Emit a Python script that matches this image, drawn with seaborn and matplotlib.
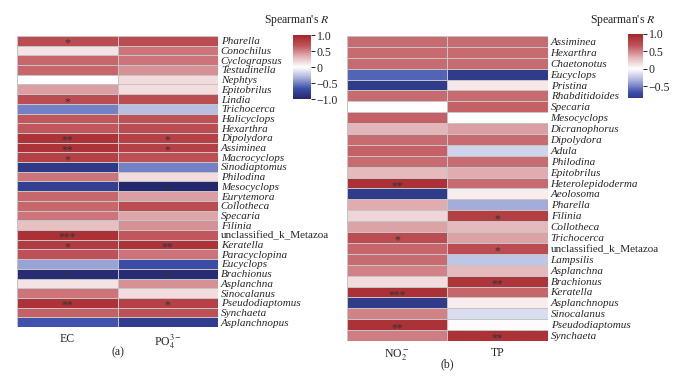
import pandas as pd
import matplotlib.pyplot as plt
import seaborn as sns
from matplotlib.colors import LinearSegmentedColormap

# Panel (a): EC and PO4 correlations
left_taxa = ["Pharella", "Conochilus", "Cyclograpsus", "Testudinella", "Nephtys",
             "Epitobrilus", "Lindia", "Trichocerca", "Halicyclops", "Hexarthra",
             "Dipolydora", "Assiminea", "Macrocyclops", "Sinodiaptomus", "Philodina",
             "Mesocyclops", "Eurytemora", "Collotheca", "Specaria", "Filinia",
             "unclassified_k_Metazoa", "Keratella", "Paracyclopina", "Eucyclops",
             "Brachionus", "Asplanchna", "Sinocalanus", "Pseudodiaptomus", "Synchaeta",
             "Asplanchnopus"]
left_ec = [0.72, 0.12, 0.6, 0.6, 0.0, 0.4, 0.72, -0.5, 0.65, 0.65,
           0.9, 0.9, 0.8, -0.85, 0.55, -0.8, 0.6, 0.6, 0.55, 0.28,
           0.92, 0.85, 0.68, -0.38, -0.95, 0.12, 0.55, 0.9, 0.62, -0.65]
left_po4 = [0.72, 0.55, 0.55, 0.45, 0.15, 0.15, 0.72, -0.28, 0.68, 0.72,
            0.8, 0.8, 0.7, -0.5, 0.15, -1.0, 0.4, 0.72, 0.38, 0.45,
            0.65, 0.9, 0.55, -0.68, -0.95, 0.45, 0.15, 0.8, 0.68, -0.82]
left_ec_sig = ["*", "", "", "", "", "", "*", "", "", "",
               "**", "**", "*", "", "", "", "", "", "", "",
               "***", "*", "", "", "*", "", "", "**", "", ""]
left_po4_sig = ["", "", "", "", "", "", "", "", "", "",
                "*", "*", "", "", "", "*", "", "", "", "",
                "", "**", "", "", "*", "", "", "*", "", ""]

# Panel (b): NO2 and TP correlations
right_taxa = ["Assiminea", "Hexarthra", "Chaetonotus", "Eucyclops", "Pristina",
              "Rhabditidoides", "Specaria", "Mesocyclops", "Dicranophorus", "Dipolydora",
              "Adula", "Philodina", "Epitobrilus", "Heterolepidoderma", "Aeolosoma",
              "Pharella", "Filinia", "Collotheca", "Trichocerca", "unclassified_k_Metazoa",
              "Lampsilis", "Asplanchna", "Brachionus", "Keratella", "Asplanchnopus",
              "Sinocalanus", "Pseudodiaptomus", "Synchaeta"]
right_no2 = [0.58, 0.58, 0.58, -0.6, -0.83, 0.58, 0.0, 0.62, 0.32, 0.58,
             0.62, 0.58, 0.3, 0.92, -0.83, 0.35, 0.18, 0.38, 0.72, 0.6,
             0.58, 0.5, 0.15, 0.92, -0.83, 0.5, 0.9, 0.52]
right_tp = [0.58, 0.58, 0.58, -0.83, 0.1, 0.58, 0.62, 0.0, 0.4, 0.58,
            -0.18, 0.58, 0.35, 0.58, 0.08, -0.35, 0.82, 0.3, 0.38, 0.72,
            -0.25, 0.3, 0.88, 0.6, 0.08, -0.15, 0.02, 0.9]
right_no2_sig = ["", "", "", "", "", "", "", "", "", "",
                 "", "", "", "**", "", "", "", "", "*", "",
                 "", "", "", "***", "", "", "**", ""]
right_tp_sig = ["", "", "", "", "", "", "", "", "", "",
                "", "", "", "", "", "", "*", "", "", "*",
                "", "", "**", "", "", "", "", "**"]

sns.set_theme(style="white")
plt.rcParams["font.family"] = ["Liberation Serif", "DejaVu Serif"]
plt.rcParams["mathtext.fontset"] = "stix"

cmap = LinearSegmentedColormap.from_list(
    "spearman", ["#24276a", "#3d4fab", "#a9b1dc", "#ffffff", "#e2b3b6", "#c0545a", "#a5262c"])

fig = plt.figure(figsize=(6.8, 3.77), dpi=100)
ax1 = fig.add_axes([0.025, 0.1326, 0.2956, 0.772])
cax1 = fig.add_axes([0.431, 0.737, 0.0265, 0.170])
ax2 = fig.add_axes([0.510, 0.0955, 0.2956, 0.809])
cax2 = fig.add_axes([0.9235, 0.740, 0.022, 0.170])


def draw_panel(ax, cax, taxa, cols, col_labels, sigs, vmin, ticks, tick_labels):
    df = pd.DataFrame(dict(zip(col_labels, cols)), index=taxa)
    sns.heatmap(df, ax=ax, cbar_ax=cax, cmap=cmap, center=0, vmin=vmin, vmax=1,
                linewidths=0.7, linecolor="#c4c4c4", yticklabels=True, xticklabels=True)
    ax.yaxis.tick_right()
    ax.set_yticklabels(taxa, rotation=0, fontsize=8)
    for t in ax.get_yticklabels():
        if not t.get_text().startswith("unclassified"):
            t.set_fontstyle("italic")
    ax.set_xticklabels(col_labels, rotation=0, fontsize=8.5)
    ax.tick_params(length=0, pad=2)
    ax.tick_params(axis="x", pad=4)
    ax.set_xlabel("")
    ax.set_ylabel("")
    # significance stars
    for j, col_sig in enumerate(sigs):
        for i, s in enumerate(col_sig):
            if s:
                ax.text(j + 0.5, i + 0.8, s, ha="center", va="center",
                        fontsize=8.5, color="#333333")
    cbar = ax.collections[0].colorbar
    cbar.set_ticks(ticks)
    cbar.set_ticklabels(tick_labels)
    cbar.ax.tick_params(labelsize=8.5, length=3, width=0.6, pad=1, color="black")
    cbar.outline.set_visible(False)


draw_panel(ax1, cax1, left_taxa, [left_ec, left_po4], ["EC", "PO$_4^{3-}$"],
           [left_ec_sig, left_po4_sig], -1.0,
           [1.0, 0.5, 0, -0.5, -1.0], ["1.0", "0.5", "0", "\u22120.5", "\u22121.0"])
draw_panel(ax2, cax2, right_taxa, [right_no2, right_tp], ["NO$_2^-$", "TP"],
           [right_no2_sig, right_tp_sig], -0.83,
           [1.0, 0.5, 0, -0.5], ["1.0", "0.5", "0", "\u22120.5"])

fig.text(297 / 680, 1 - 20 / 377, "Spearman's $R$", ha="center", va="center", fontsize=8.5)
fig.text(623 / 680, 1 - 20 / 377, "Spearman's $R$", ha="center", va="center", fontsize=8.5)
fig.text(118 / 680, 1 - 352 / 377, "(a)", ha="center", va="center", fontsize=8.5)
fig.text(447 / 680, 1 - 364 / 377, "(b)", ha="center", va="center", fontsize=8.5)

fig.savefig("out.png", dpi=100)
